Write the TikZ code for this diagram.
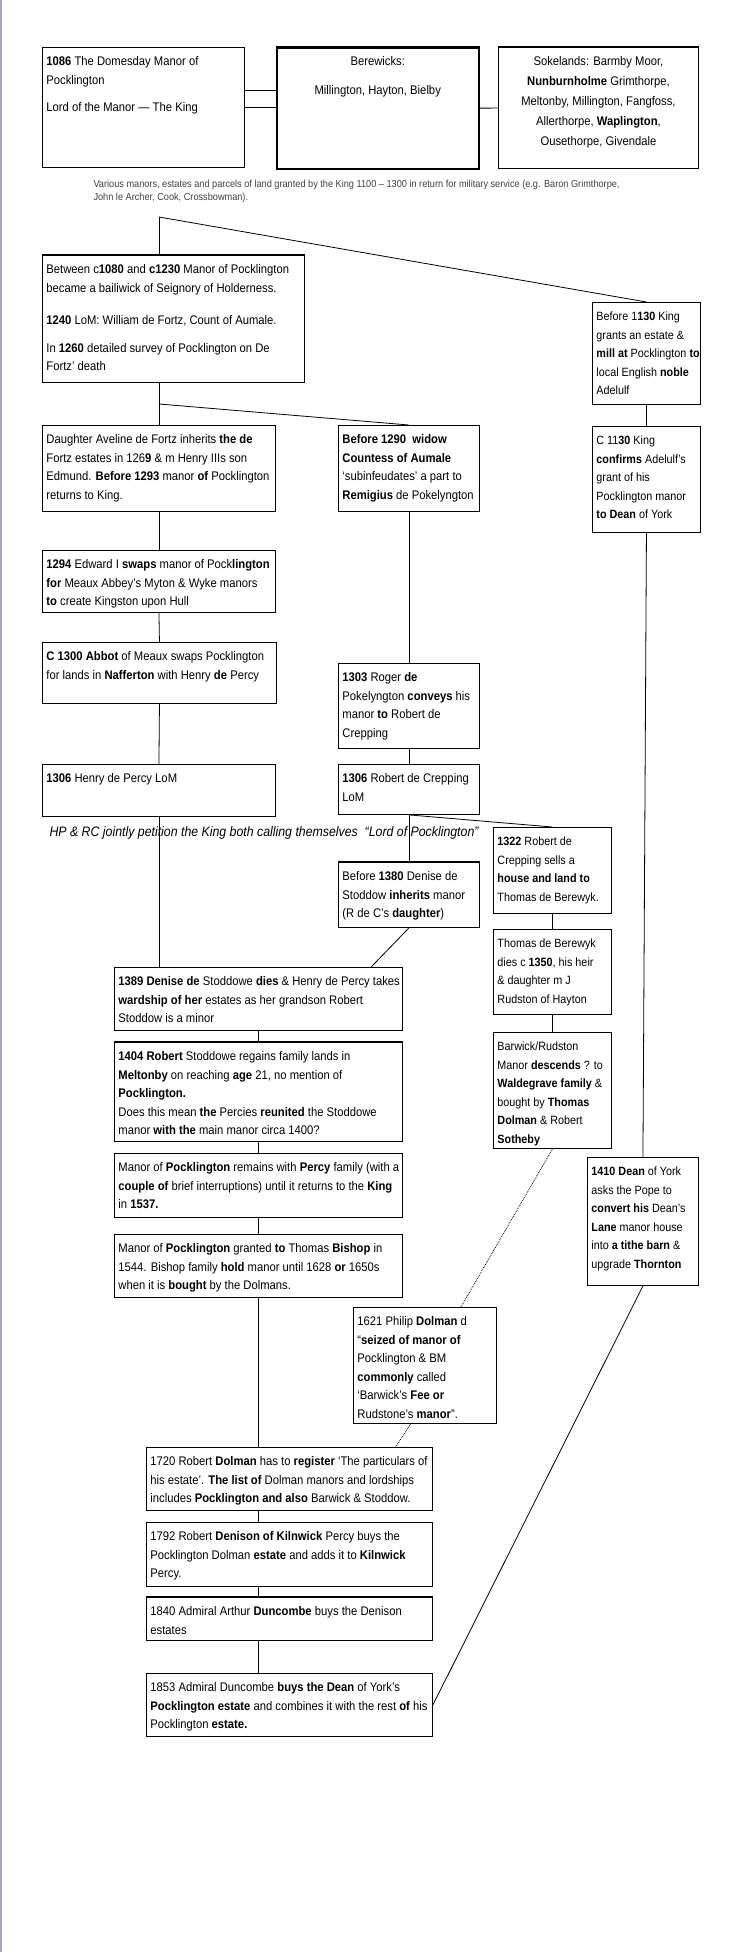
\documentclass[tikz,border=0pt]{standalone}
\usepackage{fontspec}
\setmainfont{Liberation Sans}[FakeStretch=0.9]
\usetikzlibrary{calc}
\definecolor{pageedge}{RGB}{160,168,186}
\newcommand{\boxtext}[3]{\parbox[c][#2][t]{#1}{\raggedright\begin{tabular}[t]{@{}l@{}}#3\end{tabular}}}
\newcommand{\cboxtext}[3]{\parbox[c][#2][t]{#1}{\centering\begin{tabular}[t]{@{}c@{}}#3\end{tabular}}}

\begin{document}
\begin{tikzpicture}[x=1pt,y=-1pt,
  stage/.style={draw,line width=0.9pt,anchor=north west,inner xsep=4pt,inner ysep=5pt,font=\fontsize{12.5}{18.6}\selectfont},
  narrow/.style={stage,font=\fontsize{12}{18.6}\selectfont},
  link/.style={line width=0.8pt},
  trail/.style={line width=0.8pt,densely dotted}]
\fill[white] (0,0) rectangle (744,1952);
\useasboundingbox (0,0) rectangle (744,1952);
\draw[pageedge,line width=1.5pt] (1,0) -- (1,1952);

% 1086
\node[stage] (domesday) at (42,47) {\boxtext{194pt}{110pt}{\textbf{1086} The Domesday Manor of\\ Pocklington\\[9pt] Lord of the Manor --- The King}};
\node[stage,line width=1.5pt] (berewicks) at (276,47) {\cboxtext{194pt}{111pt}{Berewicks:\\[10pt] Millington, Hayton, Bielby}};
\node[stage] (soke) at (498,47) {\cboxtext{192pt}{111pt}{Sokelands: Barmby Moor,\\[1.4pt] \textbf{Nunburnholme} Grimthorpe,\\[1.4pt] Meltonby, Millington, Fangfoss,\\[1.4pt] Allerthorpe, \textbf{Waplington},\\[1.4pt] Ousethorpe, Givendale}};
\node[anchor=north west,align=left,font=\fontsize{10.2}{13}\selectfont,text=black!75] (grants) at (90,177) {Various manors, estates and parcels of land granted by the King 1100 -- 1300 in return for military service (e.g. Baron Grimthorpe,\\ John le Archer, Cook, Crossbowman).};

% Holderness and Adelulf
\node[stage] (bailiwick) at (42,255) {\boxtext{254pt}{117pt}{Between c\textbf{1080} and \textbf{c1230} Manor of Pocklington\\ became a bailiwick of Seignory of Holderness.\\[14pt] \textbf{1240} LoM: William de Fortz, Count of Aumale.\\[9pt] In \textbf{1260} detailed survey of Pocklington on De\\ Fortz' death}};
\node[narrow] (adelulf) at (592,302) {\boxtext{100pt}{92pt}{Before 1\textbf{130} King\\ grants an estate \&\\ \textbf{mill at} Pocklington \textbf{to}\\ local English \textbf{noble}\\ Adelulf}};
\node[stage] (aveline) at (42,425) {\boxtext{225pt}{76pt}{Daughter Aveline de Fortz inherits \textbf{the de}\\ Fortz estates in 126\textbf{9} \& m Henry IIIs son\\ Edmund. \textbf{Before 1293} manor \textbf{of} Pocklington\\ returns to King.}};
\node[stage] (widow) at (338,425) {\boxtext{133pt}{76pt}{\textbf{Before 1290\ \ widow}\\ \textbf{Countess of Aumale}\\ `subinfeudates' a part to\\ \textbf{Remigius} de Pokelyngton}};
\node[narrow] (confirm) at (592,426) {\boxtext{100pt}{96pt}{C 11\textbf{30} King\\ \textbf{confirms} Adelulf's\\ grant of his\\ Pocklington manor\\ \textbf{to Dean} of York}};

% main manor
\node[stage] (edward) at (42,550) {\boxtext{225pt}{52pt}{\textbf{1294} Edward I \textbf{swaps} manor of Pock\textbf{lington}\\ \textbf{for} Meaux Abbey's Myton \& Wyke manors\\ \textbf{to} create Kingston upon Hull}};
\node[stage] (abbot) at (42,642) {\boxtext{226pt}{51pt}{\textbf{C 1300 Abbot} of Meaux swaps Pocklington\\ for lands in \textbf{Nafferton} with Henry \textbf{de} Percy}};
\node[stage] (roger) at (338,663) {\boxtext{133pt}{75pt}{\textbf{1303} Roger \textbf{de}\\ Pokelyngton \textbf{conveys} his\\ manor \textbf{to} Robert de\\ Crepping}};
\node[stage] (percy) at (42,764) {\boxtext{225pt}{42pt}{\textbf{1306} Henry de Percy LoM}};
\node[stage] (crepping) at (338,764) {\boxtext{133pt}{40pt}{\textbf{1306} Robert de Crepping\\ LoM}};
\node[anchor=west,font={\fontsize{13.7}{15}\selectfont\itshape}] (petition) at (46,833) {HP \& RC jointly petition the King both calling themselves\ \ ``Lord of Pocklington''};

% Crepping and Berewyk
\node[narrow] (sells) at (493,827) {\boxtext{110pt}{76pt}{\textbf{1322} Robert de\\ Crepping sells a\\ \textbf{house and land to}\\ Thomas de Berewyk.}};
\node[stage] (denise) at (338,862) {\boxtext{133pt}{55pt}{Before \textbf{1380} Denise de\\ Stoddow \textbf{inherits} manor\\ (R de C's \textbf{daughter})}};
\node[narrow] (berewyk) at (493,929) {\boxtext{110pt}{75pt}{Thomas de Berewyk\\ dies c \textbf{1350}, his heir\\ \& daughter m J\\ Rudston of Hayton}};
\node[stage] (wardship) at (114,967) {\boxtext{280pt}{53pt}{\textbf{1389 Denise de} Stoddowe \textbf{dies} \& Henry de Percy takes\\ \textbf{wardship of her} estates as her grandson Robert\\ Stoddow is a minor}};
\node[narrow] (barwick) at (493,1032) {\boxtext{110pt}{106pt}{Barwick/Rudston\\ Manor \textbf{descends} ? to\\ \textbf{Waldegrave family} \&\\ bought by \textbf{Thomas}\\ \textbf{Dolman} \& Robert\\ \textbf{Sotheby}}};
\node[stage] (regain) at (114,1042) {\boxtext{280pt}{89pt}{\textbf{1404 Robert} Stoddowe regains family lands in\\ \textbf{Meltonby} on reaching \textbf{age} 21, no mention of\\ \textbf{Pocklington.}\\ Does this mean \textbf{the} Percies \textbf{reunited} the Stoddowe\\ manor \textbf{with the} main manor circa 1400?}};
\node[stage] (remains) at (114,1153) {\boxtext{280pt}{54pt}{Manor of \textbf{Pocklington} remains with \textbf{Percy} family (with a\\ \textbf{couple of} brief interruptions) until it returns to the \textbf{King}\\ in \textbf{1537.}}};
\node[narrow] (dean) at (587,1157) {\boxtext{103pt}{118pt}{\textbf{1410 Dean} of York\\ asks the Pope to\\ \textbf{convert his} Dean's\\ \textbf{Lane} manor house\\ into \textbf{a tithe barn} \&\\ upgrade \textbf{Thornton}}};
\node[stage] (bishop) at (114,1234) {\boxtext{280pt}{53pt}{Manor of \textbf{Pocklington} granted \textbf{to} Thomas \textbf{Bishop} in\\ 1544. Bishop family \textbf{hold} manor until 1628 \textbf{or} 1650s\\ when it is \textbf{bought} by the Dolmans.}};
\node[stage] (philip) at (353,1307) {\boxtext{135pt}{106pt}{1621 Philip \textbf{Dolman} d\\ ``\textbf{seized of manor of}\\ Pocklington \& BM\\ \textbf{commonly} called\\ `Barwick's \textbf{Fee or}\\ Rudstone's \textbf{manor}''.}};

% Dolman and after
\node[stage] (register) at (146,1447) {\boxtext{278pt}{53pt}{1720 Robert \textbf{Dolman} has to \textbf{register} `The particulars of\\ his estate'. \textbf{The list of} Dolman manors and lordships\\ includes \textbf{Pocklington and also} Barwick \& Stoddow.}};
\node[stage] (denison) at (146,1522) {\boxtext{278pt}{54pt}{1792 Robert \textbf{Denison of Kilnwick} Percy buys the\\ Pocklington Dolman \textbf{estate} and adds it to \textbf{Kilnwick}\\ Percy.}};
\node[stage] (duncombe) at (146,1597) {\boxtext{278pt}{33pt}{1840 Admiral Arthur \textbf{Duncombe} buys the Denison\\ estates}};
\node[stage] (combine) at (146,1673) {\boxtext{278pt}{53pt}{1853 Admiral Duncombe \textbf{buys the Dean} of York's\\ \textbf{Pocklington estate} and combines it with the rest \textbf{of} his\\ Pocklington \textbf{estate.}}};

\foreach \n in {berewicks,soke,bailiwick,denise,regain,duncombe}
  \draw[line width=2.2pt] (\n.north west) -- (\n.north east);

\draw[link] ([yshift=17pt]domesday.east) -- ([yshift=17pt]domesday.east -| berewicks.west);
\draw[link] (domesday.east) -- (domesday.east -| berewicks.west);
\draw[link] (berewicks) -- (soke);
\coordinate (fork) at (159,217);
\draw[link] (fork) -- (fork |- bailiwick.north);
\draw[link] (fork) -- (adelulf.north);
\coordinate (split) at (159,404);
\draw[link] (split |- bailiwick.south) -- (split |- aveline.north);
\draw[link] (split) -- (widow.north);
\draw[link] (adelulf) -- (confirm);
\foreach \a/\b in {aveline/edward,edward/abbot,abbot/percy,widow/roger,roger/crepping,crepping/denise,sells/berewyk,berewyk/barwick,wardship/regain,regain/remains,remains/bishop,confirm/dean}
  \draw[link] (\a.south) -- (\b.north);
\draw[link] (crepping.south) -- (sells.north);
\draw[link] (percy.south) -- (percy.south |- wardship.north);
\draw[link] (denise.south) -- ($(wardship.north west)!0.89!(wardship.north east)$);
\draw[link] (bishop.south) -- (bishop.south |- register.north);
\foreach \a/\b in {register/denison,denison/duncombe,duncombe/combine}
  \draw[link] (\a.south -| bishop.south) -- (\b.north -| bishop.south);
\draw[link] (dean.south) -- (combine.east);
\draw[trail] (barwick.south) -- ($(philip.north west)!0.75!(philip.north east)$);
\draw[trail] ($(philip.south west)!0.4!(philip.south east)$) -- ($(register.north west)!0.87!(register.north east)$);
\end{tikzpicture}
\end{document}
